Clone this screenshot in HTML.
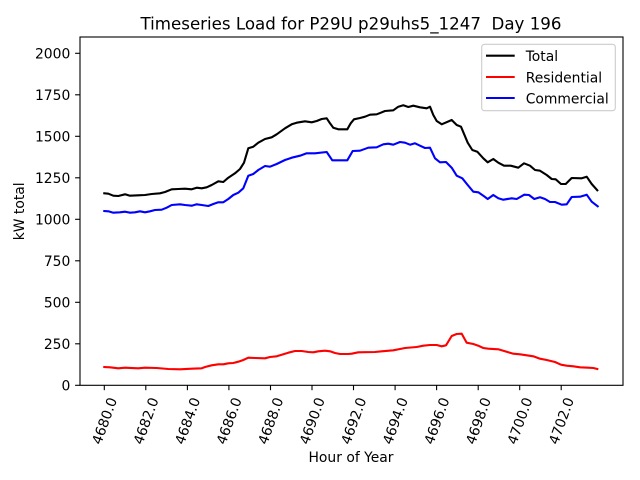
<!DOCTYPE html>
<html><head><meta charset="utf-8"><style>
html,body{margin:0;padding:0;background:#fff;}
svg{display:block;}
text{font-family:"DejaVu Sans","Liberation Sans",sans-serif;fill:#000;}
</style></head><body>
<svg width="640" height="480" viewBox="0 0 640 480" xmlns="http://www.w3.org/2000/svg">
<rect x="0" y="0" width="640" height="480" fill="#fff"/>
<text x="351" y="29.5" font-size="16.67" text-anchor="middle" xml:space="preserve">Timeseries Load for P29U p29uhs5_1247  Day 196</text>

<!-- series -->
<g fill="none" stroke-width="2.1" stroke-linejoin="round" stroke-linecap="square">
<polyline stroke="#000000" points="104.3,193.3 108.3,193.7 113.3,195.7 118.3,196 125,194.3 130,195.7 138.3,195.3 145,195 151.7,194 160,193.3 165,192 171.7,189.3 178.3,189 185,188.7 191.7,189.3 196.7,187.7 201.7,188.3 206.7,187.3 211.7,185 218.3,181.3 223.3,182 228.3,177.7 235,173.3 240,169 244,162.7 248.3,148.3 253.3,146.7 258.3,142.7 265,139 271.7,137.3 276.7,134.3 285,128.3 291.7,124.3 296.7,122.7 305,121.3 311.7,122.3 316.7,121 321.7,119 326.7,118.3 330,123.3 333.3,127.7 338.3,129.3 347.3,129.3 350.7,123.3 354,119.3 360,118 365,116.7 370,114.7 376.7,114.3 385,111 393.3,110.3 398.3,106.7 403.3,105.3 408.3,107 413.3,105.7 420,107.3 426.7,108.3 430,106.7 433.3,115 436.7,121 441.7,124.3 451.7,120 456.7,125 461,126.7 467.7,142.7 472.3,150 477.3,151.7 483.3,158.3 487.7,162.3 493.3,159 498.3,162.7 504,165.7 510.7,165.7 518.3,167.7 524,163.3 530,165.7 535,170 540,170.7 546.7,175 551.7,179 555.7,179.3 561,184 565.7,184 571.7,178 581.7,178.3 586.7,176.7 591.7,184 597.3,190.3"/>
<polyline stroke="#ff0000" points="104.3,367 110,367.3 118.3,368.3 125,367.7 138.3,368.3 145,367.7 156.7,368 168.3,369 180,369.3 191.7,368.7 201.7,368.3 205,367 211.7,365.3 218.3,364.3 223.3,364.3 228.3,363.3 233.3,363 238.3,361.7 243.3,360 248.3,357.7 255,358 265,358.3 270,357 276.7,356.3 281.7,354.7 288.3,352.7 295,351 301.7,351 308.3,352 313.3,352.3 318.3,351.3 325,350.7 330,351.3 335,353 340,354 348.3,354 351.7,353.7 358.3,352.3 375,352 381.7,351.3 393.3,350.3 400,349 405,348 416.7,347 423.3,345.7 430,345 436.7,345 441.7,346.3 446,345.3 451.7,336 456.7,334 461.7,333.7 466.7,342.7 473.3,344 478.3,345.7 483.3,348 488.3,348.7 498.3,349.3 503.3,350.7 508.3,352.3 513.3,353.7 520,354.3 526.7,355.3 533.3,356.3 540,358.7 546.7,360 555,362 561,364.7 566.7,365.7 573.3,366.3 580,367.3 588.3,367.7 593.3,368 597.3,369"/>
<polyline stroke="#0000ff" points="104.3,211 108.3,211.3 113.3,212.7 120,212.3 125,211.7 130,212.7 135,212.3 140,211.3 145,212.3 150,211.3 155,210 161.7,209.7 166.7,207.7 171.7,205 180,204.3 185,205 191.7,205.7 196.7,204.3 201.7,205 208.3,206 213.3,204 218.3,202.3 223.3,202.3 228.3,199 233.3,195 238.3,192.7 243.3,188.3 248.3,175.7 253.3,174 258.3,170 265,166 270,166.7 276.7,164 285,160 291.7,157.7 300,155.7 306.7,153.3 315,153.3 326.7,152 332.3,160.3 347.3,160.3 352.7,151 360,150.7 368.3,147.7 376.7,147.3 383.3,144.3 388.3,143.7 393.3,144.7 400,142 405,142.7 410,144.7 415,143.3 420,145.7 425,148 430,147.7 435,158.3 440,162.3 446,162 451.7,167.7 456.7,175.7 462.3,178.3 467.7,185 473.3,191.7 478.3,192.3 483.3,195.7 487.7,199 493.3,195 498.3,198.3 503.3,199.7 511.7,198.3 516.7,199 524.3,194.7 529,195 534.3,199 540,197.3 545,199 550,202 555,202 561.7,204.7 566.7,204.3 571.7,197 580,196.7 586.7,194.7 591.7,201.7 597.7,206.3"/>
</g>

<!-- axes frame -->
<rect x="80" y="37" width="543" height="348.3" fill="none" stroke="#000" stroke-width="1.1"/>

<!-- y ticks -->
<g stroke="#000" stroke-width="1.1">
<line x1="75.1" y1="385.3" x2="80" y2="385.3"/>
<line x1="75.1" y1="343.8" x2="80" y2="343.8"/>
<line x1="75.1" y1="302.3" x2="80" y2="302.3"/>
<line x1="75.1" y1="260.8" x2="80" y2="260.8"/>
<line x1="75.1" y1="219.3" x2="80" y2="219.3"/>
<line x1="75.1" y1="177.8" x2="80" y2="177.8"/>
<line x1="75.1" y1="136.3" x2="80" y2="136.3"/>
<line x1="75.1" y1="94.8" x2="80" y2="94.8"/>
<line x1="75.1" y1="53.3" x2="80" y2="53.3"/>
</g>
<g font-size="13.89" text-anchor="end">
<text x="70.3" y="390.4">0</text>
<text x="70.3" y="348.9">250</text>
<text x="70.3" y="307.4">500</text>
<text x="70.3" y="265.9">750</text>
<text x="70.3" y="224.4">1000</text>
<text x="70.3" y="182.9">1250</text>
<text x="70.3" y="141.4">1500</text>
<text x="70.3" y="99.9">1750</text>
<text x="70.3" y="58.4">2000</text>
</g>

<!-- x ticks -->
<g stroke="#000" stroke-width="1.1">
<line x1="104.3" y1="385.3" x2="104.3" y2="390.2"/>
<line x1="145.8" y1="385.3" x2="145.8" y2="390.2"/>
<line x1="187.4" y1="385.3" x2="187.4" y2="390.2"/>
<line x1="228.9" y1="385.3" x2="228.9" y2="390.2"/>
<line x1="270.5" y1="385.3" x2="270.5" y2="390.2"/>
<line x1="312" y1="385.3" x2="312" y2="390.2"/>
<line x1="353.5" y1="385.3" x2="353.5" y2="390.2"/>
<line x1="395.1" y1="385.3" x2="395.1" y2="390.2"/>
<line x1="436.6" y1="385.3" x2="436.6" y2="390.2"/>
<line x1="478.2" y1="385.3" x2="478.2" y2="390.2"/>
<line x1="519.7" y1="385.3" x2="519.7" y2="390.2"/>
<line x1="561.2" y1="385.3" x2="561.2" y2="390.2"/>
</g>
<g font-size="13.89" text-anchor="middle">
<text x="104.3" y="420.8" dy="5" transform="rotate(-70 104.3 420.8)">4680.0</text>
<text x="145.8" y="420.8" dy="5" transform="rotate(-70 145.8 420.8)">4682.0</text>
<text x="187.4" y="420.8" dy="5" transform="rotate(-70 187.4 420.8)">4684.0</text>
<text x="228.9" y="420.8" dy="5" transform="rotate(-70 228.9 420.8)">4686.0</text>
<text x="270.5" y="420.8" dy="5" transform="rotate(-70 270.5 420.8)">4688.0</text>
<text x="312" y="420.8" dy="5" transform="rotate(-70 312 420.8)">4690.0</text>
<text x="353.5" y="420.8" dy="5" transform="rotate(-70 353.5 420.8)">4692.0</text>
<text x="395.1" y="420.8" dy="5" transform="rotate(-70 395.1 420.8)">4694.0</text>
<text x="436.6" y="420.8" dy="5" transform="rotate(-70 436.6 420.8)">4696.0</text>
<text x="478.2" y="420.8" dy="5" transform="rotate(-70 478.2 420.8)">4698.0</text>
<text x="519.7" y="420.8" dy="5" transform="rotate(-70 519.7 420.8)">4700.0</text>
<text x="561.2" y="420.8" dy="5" transform="rotate(-70 561.2 420.8)">4702.0</text>
</g>

<!-- axis labels -->
<text x="351" y="462" font-size="13.89" text-anchor="middle">Hour of Year</text>
<text x="24" y="211.3" font-size="13.89" text-anchor="middle" transform="rotate(-90 24 211.3)">kW total</text>

<!-- legend -->
<rect x="481.7" y="44.3" width="133.6" height="66.4" rx="2.8" ry="2.8" fill="#fff" fill-opacity="0.8" stroke="#cccccc" stroke-width="1.1"/>
<g stroke-width="2.1" fill="none">
<line x1="486" y1="55.7" x2="514.7" y2="55.7" stroke="#000"/>
<line x1="486" y1="77" x2="514.7" y2="77" stroke="#ff0000"/>
<line x1="486" y1="98" x2="514.7" y2="98" stroke="#0000ff"/>
</g>
<g font-size="13.89">
<text x="525.7" y="61">Total</text>
<text x="525.7" y="82.3">Residential</text>
<text x="525.7" y="103.3">Commercial</text>
</g>
</svg>
</body></html>
